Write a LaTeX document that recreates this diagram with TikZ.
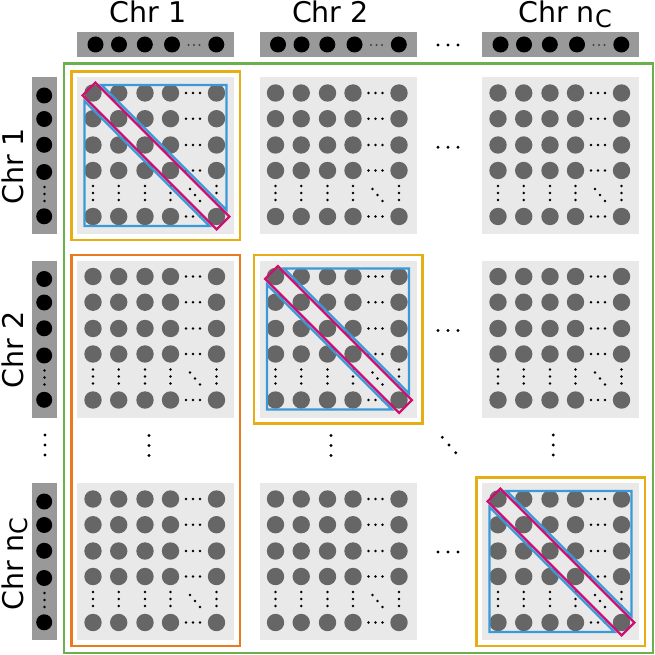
\documentclass[tikz,border=0pt]{standalone}
\usepackage{fontspec}
\setmainfont{DejaVu Sans}
\usetikzlibrary{fit,calc}
\definecolor{cgreen}{RGB}{106,176,76}
\definecolor{cyellow}{RGB}{230,174,20}
\definecolor{corange}{RGB}{232,123,30}
\definecolor{cblue}{RGB}{58,154,217}
\definecolor{cpink}{RGB}{204,16,112}
\definecolor{blockgray}{RGB}{233,233,233}
\definecolor{dotgray}{RGB}{102,102,102}
\definecolor{bargray}{RGB}{153,153,153}
\newcommand\labfont{\fontsize{28.5}{30}\selectfont}
\newcommand\subC{{\fontsize{24}{24}\selectfont\raisebox{-5pt}{C}}}
\newcommand\blockdots[2]{%
  \foreach \i in {16,41.7,68,93.5,139.5}{
    \foreach \j in {16,41.7,68,93.5,139.5}{\fill[dotgray] (#1+\i,#2+\j) circle[radius=8.7pt];}
    \foreach \k in {-7,0,7}{
      \fill (#1+116+\k,#2+\i) circle[radius=1.35pt];
      \fill (#1+\i,#2+116+\k) circle[radius=1.35pt];}
  }
  \foreach \k in {-1,0,1}{\fill (#1+118+5*\k,#2+118+6*\k) circle[radius=1.35pt];}
}
\newcommand\diagmarks[2]{%
  \draw[cblue,line width=2.2pt,line join=miter] (#1+24.5,#2+8) -- (#1+149.5,#2+8) -- (#1+149.5,#2+133) -- cycle;
  \draw[cblue,line width=2.2pt,line join=miter] (#1+7.5,#2+24) -- (#1+7.5,#2+149) -- (#1+132.5,#2+149) -- cycle;
  \draw[cpink,line width=2.2pt,line join=miter] (#1+5.6,#2+18.4) -- (#1+18.4,#2+5.6) -- (#1+152.4,#2+139.6) -- (#1+139.6,#2+152.4) -- cycle;
}
\begin{document}
\begin{tikzpicture}[x=1pt,y=-1pt,
  blockbg/.style={fill=blockgray,draw=none,minimum size=157pt,inner sep=0pt,anchor=north west},
  hbar/.style={fill=bargray,draw=none,minimum width=157pt,minimum height=24.5pt,inner sep=0pt,anchor=north west},
  vbar/.style={fill=bargray,draw=none,minimum width=25pt,minimum height=157pt,inner sep=0pt,anchor=north west},
  yellowbox/.style={draw=cyellow,line width=2.5pt,inner sep=5.5pt},
  orangebox/.style={draw=corange,line width=2.2pt,inner sep=5.5pt},
  lab/.style={font=\labfont,inner sep=0pt},
  edot/.style={radius=1.6pt}]
\useasboundingbox (0,0) rectangle (655,655);
% blocks
\foreach \c/\bx in {1/77,2/259.5,3/482}{
  \foreach \r/\by in {1/77,2/260.5,3/483}{
    \node[blockbg] (b\r\c) at (\bx,\by) {};
  }
}
\foreach \bx in {77,259.5,482}{
  \foreach \by in {77,260.5,483}{
    \blockdots{\bx}{\by}
  }
}
\foreach \bx/\by in {77/77,259.5/260.5,482/483}{
  \diagmarks{\bx}{\by}
}
% header bars
\foreach \c/\bx in {1/77,2/259.5,3/482}{
  \node[hbar] (h\c) at (\bx,32.3) {};
  \foreach \o in {18.5,42,67.8,95,139.3}{\fill (\bx+\o,44.5) circle[radius=8pt];}
  \foreach \k in {-5.5,0,5.5}{\fill[black!75] (\bx+117+\k,45) circle[radius=1.1pt];}
}
% left bars
\foreach \r/\by in {1/77,2/260.5,3/483}{
  \node[vbar] (v\r) at (31.7,\by) {};
  \foreach \o in {18.5,42,67.8,95,139.3}{\fill (44.2,\by+\o) circle[radius=8pt];}
  \foreach \k in {-7,0,7}{\fill (44.5,\by+117+\k) circle[radius=1.3pt];}
}
% boxes
\node[yellowbox,fit=(b11)] (y1) {};
\node[yellowbox,fit=(b22)] (y2) {};
\node[yellowbox,fit=(b33)] (y3) {};
\node[orangebox,fit=(b21)(b31)] (or) {};
\node[draw=cgreen,line width=2.2pt,minimum width=589.5pt,minimum height=589.5pt,inner sep=0pt,anchor=north west] (gr) at (62.5,62.5) {};
% labels
\node[lab,anchor=base west] (t1) at (109.3,22.5) {Chr 1};
\node[lab,anchor=base west] (t2) at (291.8,22.5) {Chr 2};
\node[lab,anchor=base west] (t3) at (518,22.5) {Chr n\subC};
\node[lab,anchor=base west,rotate=90] (l1) at (23,205) {Chr 1};
\node[lab,anchor=base west,rotate=90] (l2) at (23,388.5) {Chr 2};
\node[lab,anchor=base west,rotate=90] (l3) at (23,611) {Chr n\subC};
% ellipses
\foreach \k in {-10,0,10}{
  \fill (448+\k,45) circle[edot];
  \fill (448+\k,147.3) circle[edot];
  \fill (448+\k,330.5) circle[edot];
  \fill (448+\k,552) circle[edot];
  \fill (45,445+\k) circle[edot];
  \fill (149,445.5+\k) circle[edot];
  \fill (331,445.5+\k) circle[edot];
  \fill (553.3,445+\k) circle[edot];
  \fill (449+0.67*\k,445+0.77*\k) circle[edot];
}
\end{tikzpicture}
\end{document}
